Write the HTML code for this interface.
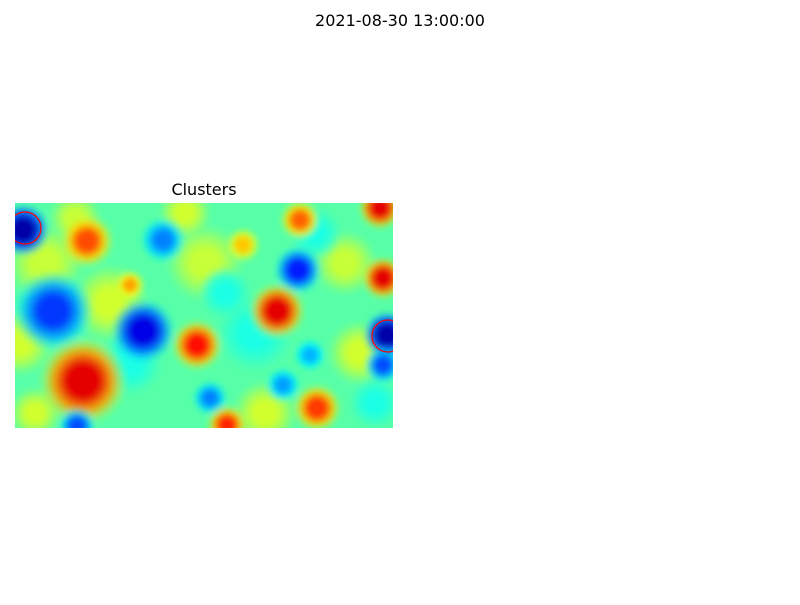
<!DOCTYPE html>
<html><head><meta charset="utf-8"><style>
body{margin:0;background:#fff;font-family:"Liberation Sans","DejaVu Sans",sans-serif;}
</style></head><body>
<svg width="800" height="600" xmlns="http://www.w3.org/2000/svg">
<text x="400" y="26" text-anchor="middle" font-size="16" font-family="DejaVu Sans, Liberation Sans, sans-serif">2021-08-30 13:00:00</text>
<text x="204" y="195" text-anchor="middle" font-size="16" font-family="DejaVu Sans, Liberation Sans, sans-serif">Clusters</text>
<defs>
<clipPath id="clip"><rect x="15" y="203" width="378" height="225"/></clipPath>
<filter id="blur" x="-10%" y="-10%" width="120%" height="120%"><feGaussianBlur stdDeviation="3"/></filter>
</defs>
<g id="heat" clip-path="url(#clip)"></g>
<g id="circles" clip-path="url(#clip)"></g>
</svg>
<script>
const blobX=[30,5,95,190,330,345,115,240,20,210,300,170,60,360,250,8,72,148,228,285,365,283,368,115,38,128,262,182,372,68,195,268,295,368,302,212,62];
const blobY=[60,140,100,60,60,150,160,130,210,90,30,10,15,200,210,27,38,37,42,17,5,67,75,82,108,128,108,142,132,178,195,182,152,162,205,222,223];
const blobR=[30,25,30,30,25,25,25,30,20,20,20,20,20,20,25,20,20,17,13,15,16,18,16,11,30,24,21,19,18,33,13,13,12,14,18,15,14];
const blobV=[0.57,0.58,0.58,0.57,0.57,0.58,0.4,0.4,0.58,0.4,0.4,0.58,0.57,0.4,0.58,0.04,0.8,0.25,0.68,0.78,0.9,0.15,0.9,0.72,0.18,0.1,0.9,0.86,0.04,0.9,0.25,0.28,0.3,0.2,0.82,0.84,0.2];
const baseValue=0.46;
const circleX=[10,373];
const circleY=[25,133];
const circleR=[16,16];
const X0=15,Y0=203;
const sx=v=>X0+v, sy=v=>Y0+v;
function jet(v){const c=t=>Math.round(255*Math.max(0,Math.min(1,t)));
return `rgb(${c(1.5-Math.abs(4*v-3))},${c(1.5-Math.abs(4*v-2))},${c(1.5-Math.abs(4*v-1))})`;}
const NS="http://www.w3.org/2000/svg";
const svg=document.querySelector('svg');const defs=svg.querySelector('defs');
const heat=document.getElementById('heat');
const bg=document.createElementNS(NS,'rect');
bg.setAttribute('x',X0);bg.setAttribute('y',Y0);bg.setAttribute('width',378);bg.setAttribute('height',225);bg.setAttribute('fill',jet(baseValue));


heat.appendChild(bg);
const g=document.createElementNS(NS,'g');g.setAttribute('filter','url(#blur)');heat.appendChild(g);
blobV.forEach((v,i)=>{
 const id='gr'+i;const gr=document.createElementNS(NS,'radialGradient');gr.setAttribute('id',id);
 [[0,jet(v),1],[0.35,jet(v),1],[0.65,jet(v*0.6+baseValue*0.4),0.9],[1,jet(v*0.3+baseValue*0.7),0]].forEach(s=>{
  const st=document.createElementNS(NS,'stop');st.setAttribute('offset',s[0]);st.setAttribute('stop-color',s[1]);st.setAttribute('stop-opacity',s[2]);gr.appendChild(st);});
 defs.appendChild(gr);
 const c=document.createElementNS(NS,'circle');
 c.setAttribute('cx',sx(blobX[i]));c.setAttribute('cy',sy(blobY[i]));c.setAttribute('r',blobR[i]*1.35);c.setAttribute('fill',`url(#${id})`);
 
 
 g.appendChild(c);
});
const cg=document.getElementById('circles');
circleX.forEach((x,i)=>{
 const c=document.createElementNS(NS,'circle');
 c.setAttribute('cx',sx(x));c.setAttribute('cy',sy(circleY[i]));c.setAttribute('r',circleR[i]);
 c.setAttribute('fill','none');c.setAttribute('stroke','red');c.setAttribute('stroke-width','1.2');
 
 
 cg.appendChild(c);
});
</script>
</body></html>
